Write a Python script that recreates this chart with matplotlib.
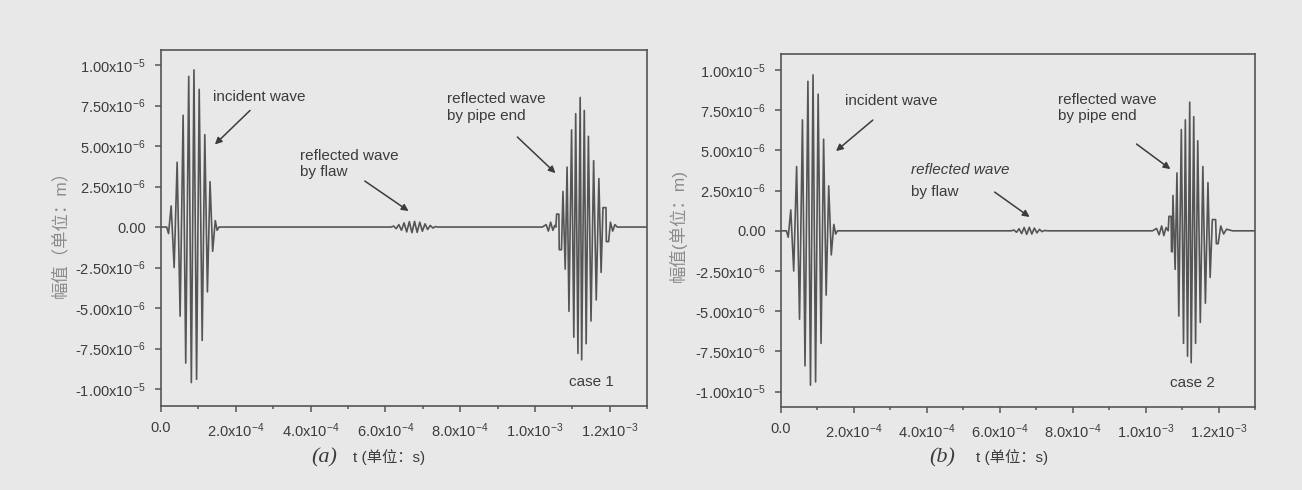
import matplotlib
matplotlib.use("Agg")
import matplotlib.pyplot as plt
from matplotlib.ticker import MultipleLocator

plt.rcParams["font.family"] = ["Liberation Sans", "Noto Sans CJK SC", "DejaVu Sans"]
plt.rcParams["mathtext.fontset"] = "custom"
plt.rcParams["mathtext.rm"] = "Liberation Sans"
plt.rcParams["mathtext.default"] = "regular"

# extrema: time in 1e-4 s, amplitude in 1e-6 m
inc_t = [0.0, 0.15, 0.20, 0.27, 0.35, 0.43, 0.51, 0.59, 0.66, 0.74, 0.81, 0.88,
         0.95, 1.02, 1.10, 1.17, 1.24, 1.31, 1.38, 1.45, 1.50, 1.55]
inc_a = [0.0, 0.0, -0.4, 1.3, -2.5, 4.0, -5.5, 6.9, -8.4, 9.3, -9.6, 9.7,
         -9.4, 8.5, -7.0, 5.7, -4.0, 2.8, -1.5, 0.4, -0.2, 0.0]

flaw1_t = [6.15, 6.22, 6.29, 6.36, 6.43, 6.50, 6.57, 6.64, 6.71, 6.78, 6.85,
           6.92, 6.99, 7.06, 7.13, 7.20, 7.27, 7.34, 7.40]
flaw1_a = [0.0, 0.06, -0.10, 0.15, -0.20, 0.26, -0.30, 0.33, -0.35, 0.35, -0.33,
           0.30, -0.26, 0.20, -0.15, 0.10, -0.06, 0.03, 0.0]

flaw2_t = [6.32, 6.39, 6.46, 6.53, 6.60, 6.67, 6.74, 6.81, 6.88, 6.95, 7.02,
           7.09, 7.16, 7.23, 7.32]
flaw2_a = [0.0, 0.05, -0.09, 0.13, -0.17, 0.21, -0.22, 0.22, -0.20, 0.17, -0.13,
           0.09, -0.05, 0.02, 0.0]

end1_t = [10.20, 10.30, 10.36, 10.42, 10.48, 10.53, 10.56, 10.58, 10.64, 10.65,
          10.71, 10.75, 10.81, 10.86, 10.91, 10.98, 11.04, 11.09, 11.15, 11.21,
          11.25, 11.32, 11.37, 11.43, 11.50, 11.57, 11.64, 11.71, 11.77, 11.82,
          11.90, 11.91, 11.97, 12.02, 12.08, 12.14, 12.20, 13.0]
end1_a = [0.0, 0.15, -0.25, 0.3, -0.2, 0.1, 0.0, 0.8, 0.8, -1.4,
          -1.4, 2.2, -2.6, 3.7, -5.2, 6.0, -6.8, 7.0, -7.8, 8.0,
          -8.2, 7.2, -7.2, 5.6, -5.8, 4.1, -4.5, 3.0, -2.8, 1.2,
          1.2, -0.9, -0.9, 0.3, -0.25, 0.15, 0.0, 0.0]

end2_t = [10.19, 10.30, 10.37, 10.44, 10.50, 10.56, 10.62, 10.64, 10.70, 10.71,
          10.73, 10.75, 10.81, 10.86, 10.91, 10.98, 11.04, 11.09, 11.15, 11.21,
          11.25, 11.32, 11.37, 11.43, 11.50, 11.57, 11.64, 11.71, 11.77, 11.83,
          11.92, 11.94, 11.99, 12.06, 12.14, 12.22, 12.38, 13.0]
end2_a = [0.0, 0.15, -0.25, 0.3, -0.3, 0.2, 0.0, 0.9, 0.9, -1.3,
          -1.3, 2.2, -2.4, 3.6, -5.3, 6.3, -7.0, 6.9, -7.8, 8.0,
          -8.2, 7.1, -7.0, 5.6, -5.7, 4.0, -4.5, 3.0, -2.9, 0.7,
          0.7, -0.8, -0.8, 0.3, -0.2, 0.1, 0.0, 0.0]

y_ticks = [-1.0e-5, -7.5e-6, -5.0e-6, -2.5e-6, 0.0, 2.5e-6, 5.0e-6, 7.5e-6, 1.0e-5]
y_labels = [r"-1.00x10$^{-5}$", r"-7.50x10$^{-6}$", r"-5.00x10$^{-6}$",
            r"-2.50x10$^{-6}$", "0.00", r"2.50x10$^{-6}$", r"5.00x10$^{-6}$",
            r"7.50x10$^{-6}$", r"1.00x10$^{-5}$"]
x_ticks = [0.0, 2e-4, 4e-4, 6e-4, 8e-4, 1.0e-3, 1.2e-3]
x_labels = ["0.0", r"2.0x10$^{-4}$", r"4.0x10$^{-4}$", r"6.0x10$^{-4}$",
            r"8.0x10$^{-4}$", r"1.0x10$^{-3}$", r"1.2x10$^{-3}$"]

BG = "#e8e8e8"
INK = "#3c3c3c"
LINE = "#555555"

fig = plt.figure(figsize=(13.02, 4.9), dpi=100, facecolor=BG)


def series(flaw_t, flaw_a, end_t, end_a):
    t = [v * 1e-4 for v in inc_t + flaw_t + end_t]
    a = [v * 1e-6 for v in inc_a + flaw_a + end_a]
    return t, a


def style(ax, ylim):
    ax.set_facecolor("none")
    ax.set_xlim(0, 1.3e-3)
    ax.set_ylim(*ylim)
    ax.set_xticks(x_ticks)
    ax.set_xticklabels(x_labels)
    ax.set_yticks(y_ticks)
    ax.set_yticklabels(y_labels)
    ax.xaxis.set_minor_locator(MultipleLocator(1e-4))
    ax.tick_params(direction="out", length=4, width=1.1, color=LINE,
                   labelcolor=INK, labelsize=10.5, pad=7)
    ax.tick_params(which="minor", direction="out", length=2.2, width=1.1, color=LINE)
    for s in ax.spines.values():
        s.set_color(LINE)
        s.set_linewidth(1.2)


arrow = dict(arrowstyle="-|>", color=INK, lw=1.1, mutation_scale=10, shrinkA=0, shrinkB=0)
fs = 11

# panel (a)
ax1 = fig.add_axes([0.1237, 0.1714, 0.3733, 0.7265])
t1, a1 = series(flaw1_t, flaw1_a, end1_t, end1_a)
ax1.plot(t1, a1, color=LINE, lw=1.2)
style(ax1, (-11.05e-6, 10.93e-6))
ax1.text(1.39e-4, 8.0e-6, "incident wave", fontsize=fs, color=INK, va="center")
ax1.annotate("", xy=(1.44e-4, 5.1e-6), xytext=(2.38e-4, 7.2e-6), arrowprops=arrow)
ax1.text(3.71e-4, 3.9e-6, "reflected wave\nby flaw", fontsize=fs, color=INK,
         va="center", linespacing=1.25)
ax1.annotate("", xy=(6.62e-4, 0.99e-6), xytext=(5.45e-4, 2.84e-6), arrowprops=arrow)
ax1.text(7.64e-4, 7.4e-6, "reflected wave\nby pipe end", fontsize=fs, color=INK,
         va="center", linespacing=1.25)
ax1.annotate("", xy=(10.55e-4, 3.33e-6), xytext=(9.53e-4, 5.56e-6), arrowprops=arrow)
ax1.text(11.51e-4, -9.57e-6, "case 1", fontsize=fs, color=INK, ha="center", va="center")

# panel (b)
ax2 = fig.add_axes([0.5998, 0.1694, 0.3641, 0.7204])
t2, a2 = series(flaw2_t, flaw2_a, end2_t, end2_a)
ax2.plot(t2, a2, color=LINE, lw=1.2)
style(ax2, (-10.96e-6, 11.0e-6))
ax2.text(1.75e-4, 8.07e-6, "incident wave", fontsize=fs, color=INK, va="center")
ax2.annotate("", xy=(1.51e-4, 4.96e-6), xytext=(2.52e-4, 6.89e-6), arrowprops=arrow)
ax2.text(3.56e-4, 3.78e-6, "reflected wave", fontsize=fs, color=INK, va="center",
         style="italic")
ax2.text(3.56e-4, 2.41e-6, "by flaw", fontsize=fs, color=INK, va="center")
ax2.annotate("", xy=(6.82e-4, 0.86e-6), xytext=(5.86e-4, 2.41e-6), arrowprops=arrow)
ax2.text(7.59e-4, 7.64e-6, "reflected wave\nby pipe end", fontsize=fs, color=INK,
         va="center", linespacing=1.25)
ax2.annotate("", xy=(10.68e-4, 3.84e-6), xytext=(9.75e-4, 5.4e-6), arrowprops=arrow)
ax2.text(11.29e-4, -9.47e-6, "case 2", fontsize=fs, color=INK, ha="center", va="center")

# axis titles placed in figure pixels
W, H = 1302, 490
fig.text(60 / W, 1 - 230 / H, "幅值（单位：m）", rotation=90, fontsize=12.5,
         color="#8c8c8c", ha="center", va="center")
fig.text(678 / W, 1 - 225 / H, "幅值(单位：m)", rotation=90, fontsize=12.5,
         color="#8c8c8c", ha="center", va="center")
for x0, tag, x1 in [(311, "(a)", 353), (929, "(b)", 976)]:
    fig.text(x0 / W, 1 - 458 / H, tag, fontsize=16, color=INK, ha="left", va="center",
             family="Liberation Serif", style="italic")
    fig.text(x1 / W, 1 - 457 / H, "t (单位：s)", fontsize=11, color=INK,
             ha="left", va="center")

fig.savefig("out.png", dpi=100, facecolor=BG)
